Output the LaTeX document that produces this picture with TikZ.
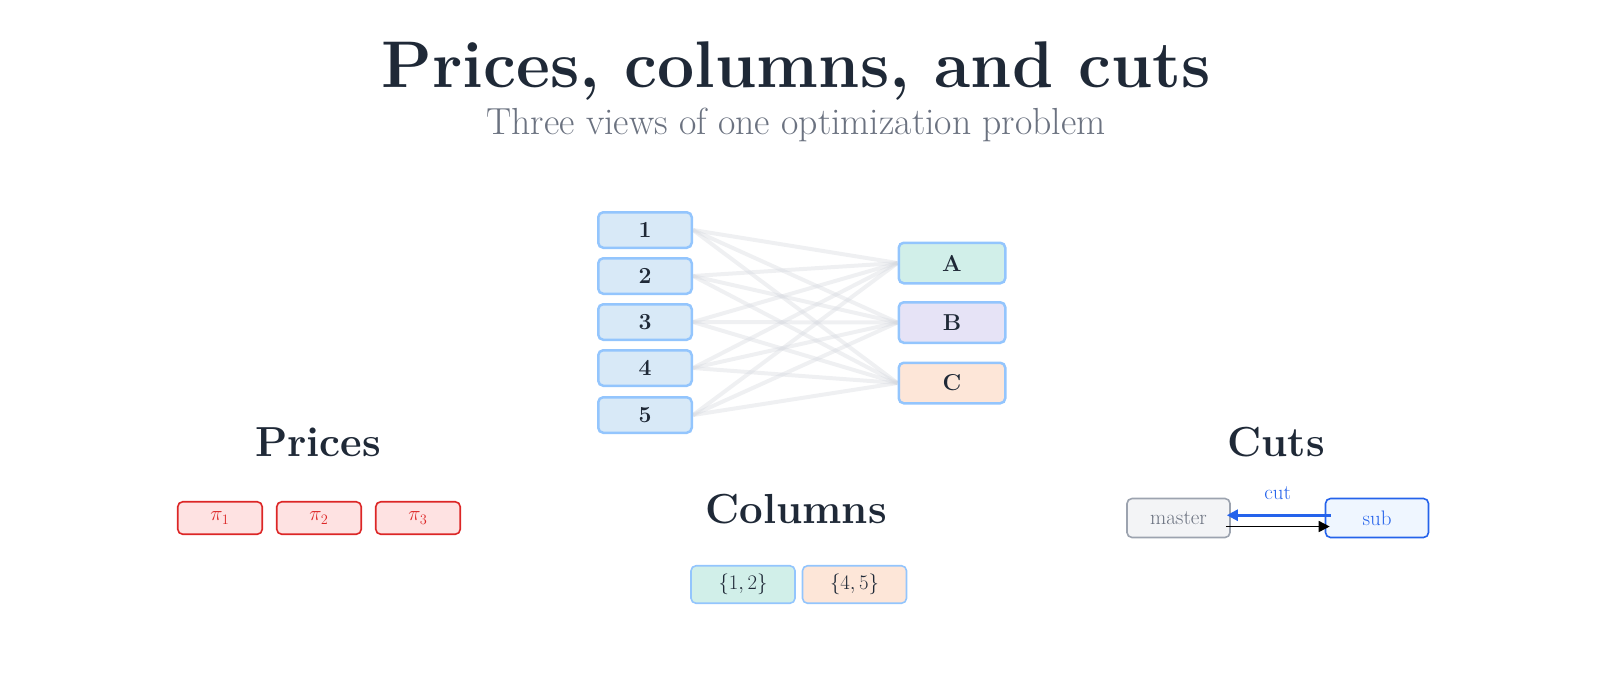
\documentclass[tikz,border=0pt]{standalone}
\usetikzlibrary{arrows.meta,backgrounds}
\definecolor{ink}{HTML}{1F2937}
\definecolor{subgray}{HTML}{6B7280}
\definecolor{bluebd}{HTML}{93C5FD}
\definecolor{itemfill}{HTML}{D8E9F7}
\definecolor{afill}{HTML}{D1EFE9}
\definecolor{bfill}{HTML}{E6E3F6}
\definecolor{cfill}{HTML}{FDE6D8}
\definecolor{redbd}{HTML}{DC2626}
\definecolor{redfill}{HTML}{FEE2E2}
\definecolor{mfill}{HTML}{F3F4F6}
\definecolor{mbd}{HTML}{9CA3AF}
\definecolor{sfill}{HTML}{EFF6FF}
\definecolor{sbd}{HTML}{2563EB}
\definecolor{edgegray}{HTML}{D5D8DE}
\tikzset{
  box/.style={draw, rounded corners=5pt, align=center, inner sep=0pt},
  item/.style={box, draw=bluebd, fill=itemfill, line width=2.5pt, minimum width=93.5pt, minimum height=35.5pt, text=ink, font=\fontsize{23}{27}\selectfont\bfseries},
  cons/.style={box, draw=bluebd, line width=2.5pt, minimum width=106.5pt, minimum height=40.5pt, text=ink, font=\fontsize{23}{27}\selectfont\bfseries},
  price/.style={box, draw=redbd, fill=redfill, line width=1.6pt, minimum width=84.5pt, minimum height=32.5pt, text=redbd, font=\fontsize{20.5}{24}\selectfont},
  colbox/.style={box, draw=bluebd, line width=1.6pt, minimum width=104pt, minimum height=37.5pt, text=ink, font=\fontsize{20.5}{24}\selectfont},
  heading/.style={anchor=base, text=ink, font=\fontsize{42}{50}\selectfont\bfseries},
  link/.style={draw=edgegray, line width=4pt, opacity=0.38},
  small/.style={font=\fontsize{21}{25}\selectfont}
}
\begin{document}
\begin{tikzpicture}[x=1pt,y=-1pt]
\useasboundingbox (0,0) rectangle (1598,689);
% title
\node[anchor=base, text=ink, font=\fontsize{66}{76}\selectfont\bfseries] (title) at (796,87) {Prices, columns, and cuts};
\node[anchor=base, text=subgray, font=\fontsize{37.7}{44}\selectfont] (subtitle) at (796,134) {Three views of one optimization problem};
% bipartite
\node[item] (n1) at (645,230) {1};
\node[item] (n2) at (645,276) {2};
\node[item] (n3) at (645,322) {3};
\node[item] (n4) at (645,368) {4};
\node[item] (n5) at (645,415) {5};
\node[cons, fill=afill] (cA) at (952,263) {A};
\node[cons, fill=bfill] (cB) at (952,322.5) {B};
\node[cons, fill=cfill] (cC) at (952,383) {C};
\begin{scope}[on background layer]
\foreach \i in {1,...,5}{
  \foreach \j in {A,B,C}{
    \draw[link] (n\i.east) -- (c\j.west);
  }
}
\end{scope}
% Prices
\node[heading] (hp) at (318,456) {Prices};
\node[price] (p1) at (220,518) {$\pi_1$};
\node[price] (p2) at (319,518) {$\pi_2$};
\node[price] (p3) at (418,518) {$\pi_3$};
% Columns
\node[heading] (hc) at (796,523) {Columns};
\node[colbox, fill=afill] (k1) at (743,584.5) {$\{1,2\}$};
\node[colbox, fill=cfill] (k2) at (854.5,584.5) {$\{4,5\}$};
% Cuts
\node[heading] (hk) at (1276,456) {Cuts};
\node[box, small, draw=mbd, fill=mfill, line width=1.6pt, minimum width=103pt, minimum height=39pt, text=subgray] (master) at (1178.5,518) {master};
\node[box, small, draw=sbd, fill=sfill, line width=1.6pt, minimum width=103pt, minimum height=39pt, text=sbd] (sub) at (1377,518) {sub};
\draw[draw=sbd, line width=2.6pt, -{Triangle[length=11pt,width=11pt]}, shorten <=-6pt, shorten >=-4pt] ([yshift=2.8pt]sub.west) -- ([yshift=2.8pt]master.east) node[midway, above=11pt, text=sbd, small] (cutlbl) {cut};
\draw[draw=black, line width=1.5pt, -{Triangle[length=11pt,width=11pt]}, shorten <=-5pt, shorten >=-5pt] ([yshift=-8.5pt]master.east) -- ([yshift=-8.5pt]sub.west);
\end{tikzpicture}
\end{document}
